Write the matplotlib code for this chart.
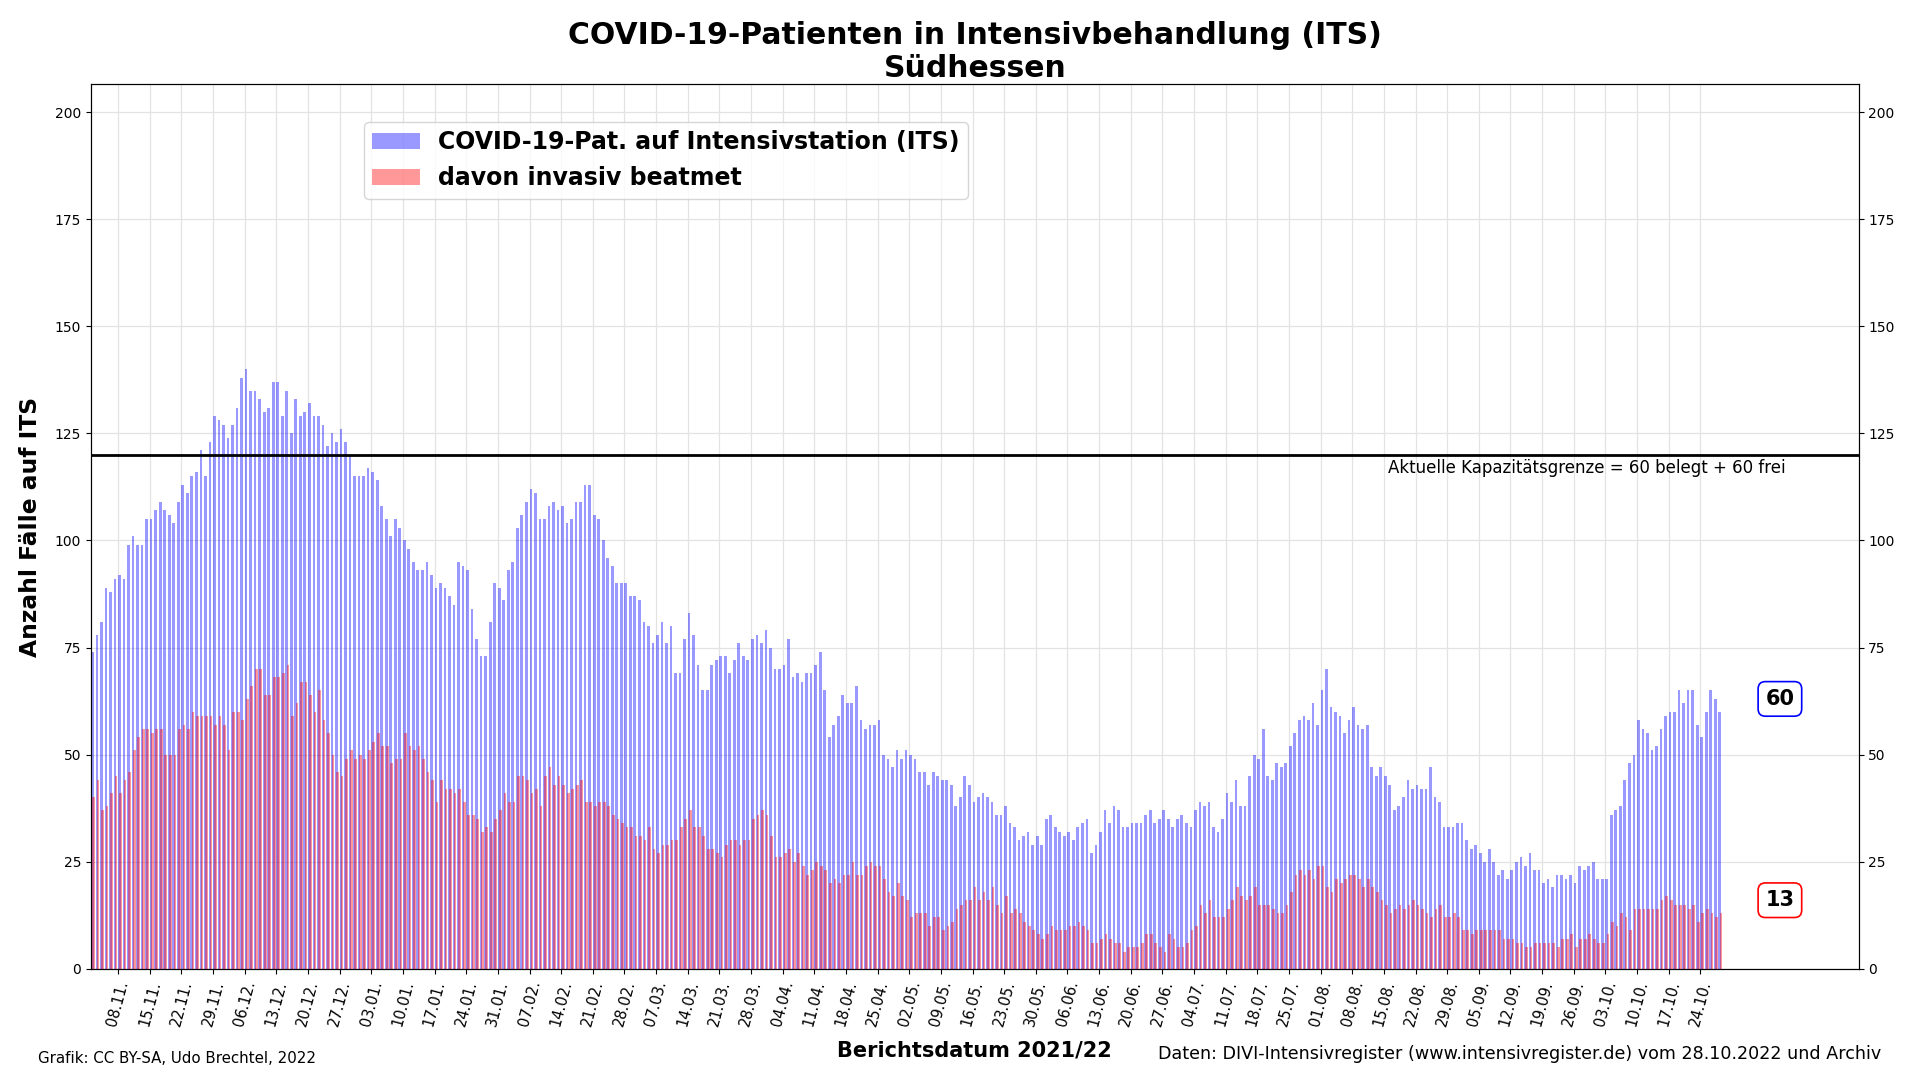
### COVID-19-Patienten auf Intensivstation (ITS), Suedhessen - Tageswerte als Balken

import numpy as np
import pandas as pd
import matplotlib
matplotlib.use('Agg')
import matplotlib.pyplot as plt
from matplotlib.transforms import blended_transform_factory

# Berichtszeitraum (ein Wert pro Tag)
start_datum = '2021-11-02'
achse_ende = '2022-11-28'

# COVID-19-Pat. auf ITS (Tageswerte ab 02.11.2021)
its_gesamt = [
    74, 78, 81, 89, 88, 91, 92, 91, 99, 101, 99, 99, 105, 105, 107, 109, 107, 106, 104, 109,
    113, 111, 115, 116, 121, 115, 123, 129, 128, 127, 124, 127, 131, 138, 140, 135, 135, 133, 130, 131,
    137, 137, 129, 135, 125, 133, 129, 130, 132, 129, 129,
    127, 122, 125, 123, 126, 123, 120, 115, 115, 115, 117, 116, 114, 108, 105, 101, 105, 103, 100, 98,
    95, 93, 93, 95, 92, 89, 90, 89, 87, 85, 95, 94, 93, 84, 77, 73, 73, 81, 90, 89,
    86, 93, 95, 103, 106, 109, 112, 111, 105, 105, 108, 109, 107, 108, 104, 105, 109, 109,
    113, 113, 106, 105, 100, 96, 94, 90, 90, 90, 87, 87, 86, 81, 80, 76, 78, 81, 76, 80,
    69, 69, 77, 83, 78, 71, 65, 65, 71, 72, 73, 73, 69, 72, 76, 73, 72, 77, 78, 76,
    79, 75, 70, 70, 71, 77, 68, 69, 67, 69, 69, 71, 74, 65, 54, 57, 59,
    64, 62, 62, 66, 58, 56, 57, 57, 58, 50, 49, 47, 51, 49, 51, 50, 49, 46, 46, 43,
    46, 45, 44, 44, 43, 38, 40, 45, 43, 39, 40, 41, 40, 39, 36, 36, 38, 34, 33, 30,
    31, 32, 29, 31, 29, 35, 36, 33, 32, 31, 32, 30, 33, 34, 35, 27, 29,
    32, 37, 34, 38, 37, 33, 33, 34, 34, 34, 36, 37, 34, 35, 37, 35, 33, 35, 36, 34,
    33, 37, 39, 38, 39, 33, 32, 35, 41, 39, 44, 38, 38, 45, 50, 49, 56, 45, 44, 48,
    47, 48, 52, 55, 58, 59, 58, 62, 57, 65, 70, 61, 60, 59, 55,
    58, 61, 57, 56, 57, 47, 45, 47, 45, 43, 37, 38, 40, 44, 42, 43, 42, 42, 47, 40,
    39, 33, 33, 33, 34, 34, 30, 28, 29, 27, 25, 28, 25, 22, 23, 21, 23, 25, 26, 24,
    27, 23, 23, 20, 21, 19, 22, 22, 21, 22, 20, 24, 23, 24, 25, 21, 21, 21,
    36, 37, 38, 44, 48, 50, 58, 56, 55, 51, 52, 56, 59, 60, 60, 65, 62, 65, 65, 57,
    54, 60, 65, 63, 60,
]

# davon invasiv beatmet
its_beatmet = [
    40, 44, 37, 38, 41, 45, 41, 44, 46, 51, 54, 56, 56, 55, 56, 56, 50, 50, 50, 56,
    57, 56, 60, 59, 59, 59, 59, 57, 59, 57, 51, 60, 60, 58, 63, 66, 70, 70, 64, 64,
    68, 68, 69, 71, 59, 62, 67, 67, 64, 60, 65,
    58, 55, 50, 46, 45, 49, 51, 49, 50, 49, 51, 53, 55, 52, 52, 48, 49, 49, 55, 52,
    51, 52, 49, 46, 44, 39, 44, 42, 42, 41, 42, 39, 36, 36, 35, 32, 33, 32, 35, 37,
    41, 39, 39, 45, 45, 44, 41, 42, 38, 45, 47, 43, 45, 43, 41, 42, 43, 44,
    39, 39, 38, 39, 39, 38, 36, 35, 34, 33, 33, 31, 31, 30, 33, 28, 27, 29, 29, 30,
    30, 33, 35, 37, 33, 33, 31, 28, 28, 27, 26, 29, 30, 30, 29, 30, 30, 35, 36, 37,
    36, 31, 26, 26, 27, 28, 25, 27, 24, 22, 23, 25, 24, 23, 20, 21, 20,
    22, 22, 25, 22, 22, 24, 25, 24, 24, 21, 18, 17, 20, 17, 16, 12, 13, 13, 13, 10,
    12, 12, 9, 10, 11, 14, 15, 16, 16, 19, 16, 18, 16, 19, 15, 13, 17, 13, 14, 13,
    11, 10, 9, 8, 7, 8, 10, 9, 9, 9, 10, 10, 11, 10, 9, 6, 6,
    7, 8, 7, 6, 6, 4, 5, 5, 5, 6, 8, 8, 6, 5, 4, 8, 7, 5, 5, 6,
    9, 10, 15, 13, 16, 12, 12, 12, 14, 16, 19, 17, 16, 17, 19, 15, 15, 15, 14, 13,
    13, 15, 18, 22, 23, 22, 23, 21, 24, 24, 19, 18, 21, 20, 21,
    22, 22, 21, 19, 21, 19, 18, 16, 15, 13, 14, 15, 14, 15, 16, 15, 14, 13, 12, 14,
    15, 12, 12, 13, 12, 9, 9, 8, 9, 9, 9, 9, 9, 9, 7, 7, 7, 6, 6, 5,
    5, 6, 6, 6, 6, 6, 5, 7, 7, 8, 5, 7, 7, 8, 7, 6, 6, 8,
    11, 10, 13, 12, 9, 14, 14, 14, 14, 14, 14, 16, 17, 16, 15, 15, 15, 14, 15, 11,
    13, 14, 13, 12, 13,
]

# Kapazitaetsgrenze
kap_belegt = 60
kap_frei = 60

# Wochen-Ticks (montags)
tick_start = '2021-11-08'
tick_ende = '2022-10-24'

y_ticks = list(range(0, 201, 25))


def zeichne_diagramm():
    datum = pd.date_range(start_datum, periods=len(its_gesamt), freq='D')
    wochen = pd.date_range(tick_start, tick_ende, freq='7D')

    fig, ax = plt.subplots(figsize=(19.2, 10.8), dpi=100)
    fig.subplots_adjust(left=0.0474, right=0.968, bottom=0.103, top=0.922)

    ax.bar(datum, its_gesamt, width=0.6, align='edge', color='blue', alpha=0.4,
           label='COVID-19-Pat. auf Intensivstation (ITS)', zorder=2)
    ax.bar(datum + pd.Timedelta(hours=6), its_beatmet, width=0.6, align='edge',
           color='red', alpha=0.4, label='davon invasiv beatmet', zorder=3)

    # Kapazitaetsgrenze
    kap = kap_belegt + kap_frei
    ax.axhline(kap, color='black', lw=2, zorder=4)
    trans = blended_transform_factory(ax.transAxes, ax.transData)
    ax.text(0.9587, kap - 3.0, f'Aktuelle Kapazitätsgrenze = {kap_belegt} belegt + {kap_frei} frei',
            transform=trans, ha='right', va='center', fontsize=12)

    # aktuelle Werte am rechten Rand
    ax.text(0.9555, its_gesamt[-1] + 3, str(its_gesamt[-1]), transform=trans,
            ha='center', va='center', fontsize=15, fontweight='bold',
            bbox=dict(boxstyle='round,pad=0.35', fc='white', ec='blue', lw=1.2))
    ax.text(0.9555, its_beatmet[-1] + 3, str(its_beatmet[-1]), transform=trans,
            ha='center', va='center', fontsize=15, fontweight='bold',
            bbox=dict(boxstyle='round,pad=0.35', fc='white', ec='red', lw=1.2))

    ax.set_xlim(pd.Timestamp(start_datum), pd.Timestamp(achse_ende))
    ax.set_ylim(0, 206.5)
    ax.set_yticks(y_ticks)
    ax.tick_params(axis='y', labelsize=10)
    ax.set_xticks(wochen)
    ax.set_xticklabels([d.strftime('%d.%m.') for d in wochen], rotation=75, fontsize=10.5)

    ax.grid(True, color='#e3e3e3', lw=0.9)
    ax.set_axisbelow(True)

    ax2 = ax.twinx()
    ax2.set_ylim(ax.get_ylim())
    ax2.set_yticks(y_ticks)
    ax2.tick_params(axis='y', labelsize=10)

    ax.set_title('COVID-19-Patienten in Intensivbehandlung (ITS)\nSüdhessen',
                 fontsize=21.5, fontweight='bold', pad=5, linespacing=1.2)
    ax.set_ylabel('Anzahl Fälle auf ITS', fontsize=16.8, fontweight='bold')
    ax.yaxis.set_label_coords(-0.028, 0.5)
    ax.set_xlabel('Berichtsdatum 2021/22', fontsize=15, fontweight='bold')
    ax.xaxis.set_label_coords(0.5, -0.081)

    ax.legend(loc='upper left', bbox_to_anchor=(0.1478, 0.9704),
              prop={'size': 17, 'weight': 'bold'}, borderpad=0.35)

    fig.text(0.02, 0.02, 'Grafik: CC BY-SA, Udo Brechtel, 2022', fontsize=10.8, va='center')
    fig.text(0.98, 0.024, 'Daten: DIVI-Intensivregister (www.intensivregister.de) vom 28.10.2022 und Archiv',
             fontsize=12.6, ha='right', va='center')

    fig.savefig('out.png', dpi=100)


def main():
    zeichne_diagramm()


if __name__ == "__main__":
    main()
